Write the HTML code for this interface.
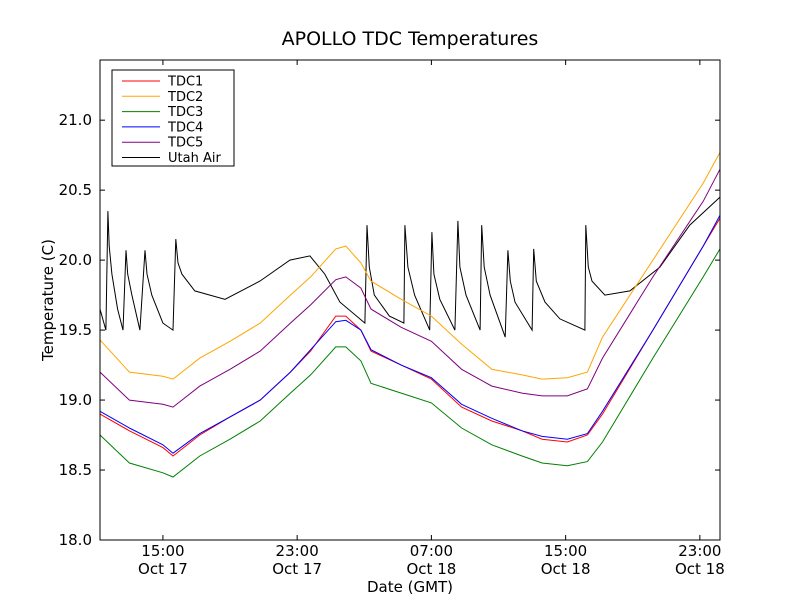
<!DOCTYPE html>
<html><head><meta charset="utf-8"><style>
body{margin:0;background:#fff;}
svg{font-family:"DejaVu Sans","Liberation Sans",sans-serif;}
</style></head><body>
<svg id="chart" width="800" height="600">
<rect x="0" y="0" width="800" height="600" fill="#fff"/>
<text x="410" y="45" text-anchor="middle" font-size="19">APOLLO TDC Temperatures</text>
<g id="plot"></g>
<rect x="100" y="60" width="620" height="480" fill="none" stroke="#000" stroke-width="1"/>
<g id="axes"></g>
<text x="410" y="592" text-anchor="middle" font-size="15">Date (GMT)</text>
<text transform="translate(53,300) rotate(-90)" text-anchor="middle" font-size="15">Temperature (C)</text>
<g id="legend"></g>
</svg>
<script>
const xTickHours=[15,23,31,39,47];
const xTickTimes=["15:00","23:00","07:00","15:00","23:00"];
const xTickDates=["Oct 17","Oct 17","Oct 18","Oct 18","Oct 18"];
const yTicks=[18.0,18.5,19.0,19.5,20.0,20.5,21.0];
const seriesNames=["TDC1","TDC2","TDC3","TDC4","TDC5","Utah Air"];
const seriesColors=["red","orange","green","blue","purple","black"];
const tdcHours=[11.25,13.0,15.0,15.6,17.2,19.0,20.8,22.6,23.8,25.3,25.9,26.8,27.4,29.2,31.0,32.8,34.6,36.4,37.6,39.1,40.3,41.2,44.2,47.2,48.2];
const tdc1=[18.9,18.78,18.66,18.6,18.75,18.88,19.0,19.2,19.35,19.6,19.6,19.5,19.35,19.25,19.15,18.95,18.85,18.78,18.72,18.7,18.75,18.9,19.5,20.1,20.3];
const tdc2=[19.43,19.2,19.17,19.15,19.3,19.42,19.55,19.75,19.88,20.08,20.1,19.98,19.85,19.72,19.6,19.4,19.22,19.18,19.15,19.16,19.2,19.45,20.0,20.55,20.77];
const tdc3=[18.75,18.55,18.48,18.45,18.6,18.72,18.85,19.05,19.18,19.38,19.38,19.28,19.12,19.05,18.98,18.8,18.68,18.6,18.55,18.53,18.56,18.7,19.3,19.88,20.08];
const tdc4=[18.92,18.8,18.68,18.62,18.76,18.88,19.0,19.2,19.36,19.56,19.57,19.5,19.36,19.25,19.16,18.97,18.87,18.78,18.74,18.72,18.76,18.92,19.5,20.1,20.32];
const tdc5=[19.2,19.0,18.97,18.95,19.1,19.22,19.35,19.55,19.68,19.86,19.88,19.8,19.65,19.52,19.42,19.22,19.1,19.05,19.03,19.03,19.08,19.3,19.88,20.42,20.65];
const airHours=[11.25,11.6,11.72,11.8,11.96,12.3,12.62,12.8,12.9,13.15,13.63,13.93,14.05,14.34,15.0,15.6,15.77,15.9,16.13,16.9,18.7,20.78,22.57,23.76,24.65,25.55,27.04,27.16,27.3,27.6,28.5,29.36,29.42,29.6,30.0,30.9,31.03,31.15,31.5,32.4,32.58,32.7,33.06,33.9,34.0,34.15,34.5,35.4,35.56,35.7,35.98,37.0,37.1,37.25,37.77,38.66,40.15,40.2,40.35,40.57,41.34,42.83,44.62,46.4,48.2];
const airTemp=[19.65,19.5,20.35,20.1,19.9,19.65,19.5,20.07,19.9,19.75,19.5,20.07,19.9,19.75,19.55,19.5,20.15,19.98,19.9,19.78,19.72,19.85,20.0,20.03,19.9,19.7,19.55,20.25,19.95,19.75,19.6,19.55,20.25,19.95,19.75,19.5,20.2,19.9,19.72,19.5,20.28,19.95,19.75,19.5,20.25,19.95,19.75,19.45,20.07,19.85,19.7,19.5,20.08,19.85,19.7,19.58,19.5,20.25,19.95,19.85,19.75,19.78,19.95,20.25,20.45];

const NS="http://www.w3.org/2000/svg";
const X0=100,X1=720,Y0=60,Y1=540,T0=11.25,T1=48.2,V0=18.0,V1=21.43;
function xs(t){return X0+(t-T0)/(T1-T0)*(X1-X0);}
function ys(v){return Y1-(v-V0)/(V1-V0)*(Y1-Y0);}
function mk(tag,attrs,parent){const e=document.createElementNS(NS,tag);for(const k in attrs)e.setAttribute(k,attrs[k]);parent.appendChild(e);return e;}
const plot=document.getElementById('plot'),axes=document.getElementById('axes'),legend=document.getElementById('legend');
const data=[[tdcHours,tdc1],[tdcHours,tdc2],[tdcHours,tdc3],[tdcHours,tdc4],[tdcHours,tdc5],[airHours,airTemp]];
const order=[5,1,4,0,3,2];
order.forEach(i=>{
  const [h,v]=data[i];
  const pts=h.map((t,j)=>xs(t).toFixed(1)+","+ys(v[j]).toFixed(1)).join(" ");
  const p=mk('polyline',{points:pts,fill:'none',stroke:seriesColors[i],'stroke-width':1},plot);
  
  
});
yTicks.forEach(v=>{
  const y=ys(v);
  mk('line',{x1:X0,x2:X0+5,y1:y,y2:y,stroke:'#000'},axes);
  mk('line',{x1:X1,x2:X1-5,y1:y,y2:y,stroke:'#000'},axes);
  const t=mk('text',{x:X0-8,y:y+5,'text-anchor':'end','font-size':15},axes);
  t.textContent=v.toFixed(1);
  
  
});
xTickHours.forEach((h,i)=>{
  const x=xs(h);
  mk('line',{x1:x,x2:x,y1:Y1,y2:Y1-5,stroke:'#000'},axes);
  mk('line',{x1:x,x2:x,y1:Y0,y2:Y0+5,stroke:'#000'},axes);
  const t=mk('text',{x:x,y:556,'text-anchor':'middle','font-size':15},axes);
  t.textContent=xTickTimes[i];
  
  
  const d=mk('text',{x:x,y:574,'text-anchor':'middle','font-size':15},axes);
  d.textContent=xTickDates[i];
  
  
});
mk('rect',{x:112,y:70,width:122,height:96,fill:'#fff',stroke:'#000'},legend);
seriesNames.forEach((n,i)=>{
  const y=81+i*15.3;
  const l=mk('line',{x1:122,x2:160,y1:y,y2:y,stroke:seriesColors[i]},legend);
  
  
  const t=mk('text',{x:168,y:y+4.5,'font-size':13},legend);
  t.textContent=n;
  
  
});
</script>
</body></html>
